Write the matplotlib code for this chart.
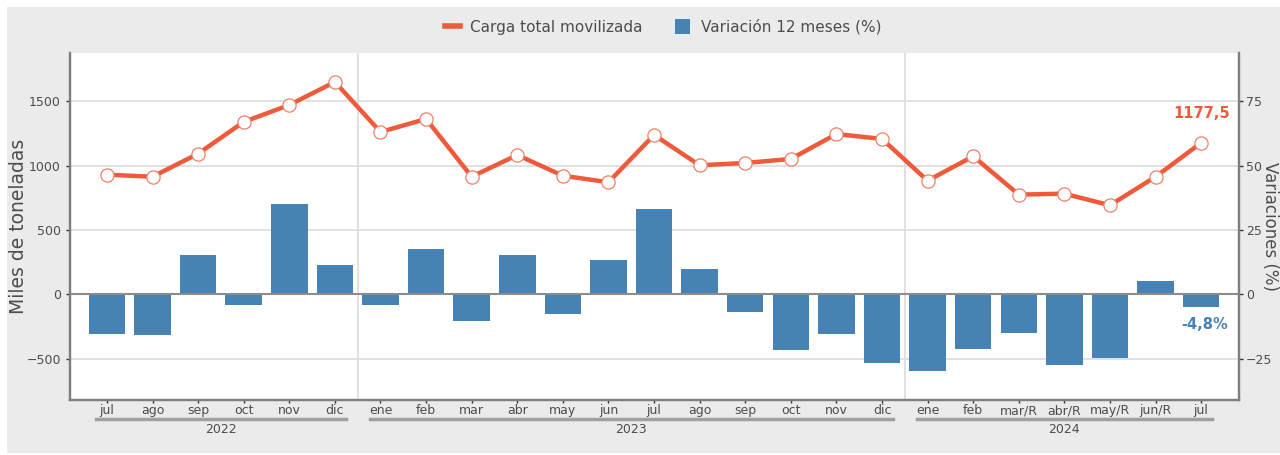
import matplotlib.pyplot as plt
from matplotlib.patches import Rectangle
from matplotlib.lines import Line2D
from matplotlib.patches import Patch
import matplotlib.transforms as mtransforms

months = ["jul", "ago", "sep", "oct", "nov", "dic",
          "ene", "feb", "mar", "abr", "may", "jun", "jul", "ago", "sep", "oct", "nov", "dic",
          "ene", "feb", "mar/R", "abr/R", "may/R", "jun/R", "jul"]
years = ["2022", "2023", "2024"]
year_counts = [6, 12, 7]

carga = [930, 914, 1093, 1340, 1472, 1651,
         1262, 1363, 914, 1083, 922, 871, 1239, 1003, 1021, 1052, 1246, 1208,
         883, 1073, 775, 782, 692, 914, 1177.5]
variacion = [-15.3, -16.0, 15.3, -4.2, 35.0, 11.4,
             -4.2, 17.6, -10.4, 15.2, -7.7, 13.2, 33.0, 9.7, -6.8, -21.5, -15.6, -26.8,
             -29.9, -21.1, -15.0, -27.6, -24.8, 5.2, -4.8]

ORANGE = "#EE5A3A"
BLUE = "#4682B4"
TEXT = "#4D4D4D"
BG = "#EBEBEB"

plt.rcParams["font.family"] = "DejaVu Sans"

W, H = 1280, 455
fig = plt.figure(figsize=(W / 100, H / 100), dpi=100)
fig.patch.set_facecolor("white")
fig.patches.append(Rectangle((7 / W, 2 / H), 1 - 7 / W, 446 / H, transform=fig.transFigure,
                             facecolor=BG, edgecolor="none", zorder=-10))

x0, x1, y0, y1 = 70, 1239, 53, 400
ax2 = fig.add_axes([x0 / W, (H - y1) / H, (x1 - x0) / W, (y1 - y0) / H])
ax = ax2.twinx()
ax.yaxis.tick_left()
ax.yaxis.set_label_position("left")
ax2.yaxis.tick_right()
ax2.yaxis.set_label_position("right")
ax.set_zorder(ax2.get_zorder() + 1)
ax.patch.set_visible(False)
ax2.set_facecolor("white")

x = list(range(len(months)))

# bars (right axis)
ax2.bar(x, variacion, width=0.8, color=BLUE, zorder=3)
ax2.set_ylim(-41.1, 93.8)
ax2.set_yticks([-25, 0, 25, 50, 75])
ax2.grid(axis="y", color="#DCDCDC", linewidth=1.2, zorder=0)
ax2.axhline(0, color="#8C8C8C", linewidth=1.5, zorder=4)
for sep in [5.5, 17.5]:
    ax2.axvline(sep, color="#DCDCDC", linewidth=1.2, zorder=1)

# line (left axis)
ax.plot(x, carga, color=ORANGE, linewidth=3.2, zorder=5)
ax.plot(x, carga, linestyle="none", marker="o", markersize=9.5,
        markerfacecolor="white", markeredgecolor="#F08068", markeredgewidth=0.9, zorder=6)
ax.set_ylim(-822, 1876)
ax.set_yticks([-500, 0, 500, 1000, 1500])
ax.set_xlim(-0.81, 24.83)

ax.annotate("1177,5", (x[-1], carga[-1]), xytext=(29, 29), textcoords="offset pixels",
            ha="right", va="center", color=ORANGE, fontsize=10.5, fontweight="bold")
ax2.annotate("-4,8%", (x[-1], variacion[-1]), xytext=(3, -18), textcoords="offset pixels",
             ha="center", va="center", color=BLUE, fontsize=10.5, fontweight="bold")

ax2.set_xticks(x)
ax2.set_xticklabels(months)
for a in (ax, ax2):
    a.tick_params(colors=TEXT, labelsize=9, length=3, width=1)
    a.tick_params(axis="x", color="#333333", pad=0.5, length=2.5)
    a.spines["top"].set_visible(False)
    for s in ("left", "right", "bottom"):
        a.spines[s].set_color("#7F7F7F")
        a.spines[s].set_linewidth(1.6)
ax.tick_params(axis="y", color="#333333")
ax2.tick_params(axis="y", color="#333333", pad=2)

ax.set_ylabel("Miles de toneladas", color=TEXT, fontsize=13.5, labelpad=-1)
ax2.set_ylabel("Variaciones (%)", color=TEXT, fontsize=12, rotation=270, labelpad=5)

# year groups below month labels
trans = mtransforms.blended_transform_factory(ax2.transData, fig.transFigure)
start = 0
for yr, n in zip(years, year_counts):
    a_, b_ = start - 0.24, start + n - 1 + 0.24
    fig.add_artist(Line2D([a_, b_], [(H - 419) / H] * 2, transform=trans,
                          color="#A0A0A0", linewidth=2.5))
    fig.text((a_ + b_) / 2, (H - 429.5) / H, yr, transform=trans, ha="center", va="center",
             color=TEXT, fontsize=9)
    start += n

handles = [Line2D([0], [0], color=ORANGE, linewidth=4),
           Patch(facecolor=BLUE, edgecolor="none")]
fig.legend(handles, ["Carga total movilizada", "Variación 12 meses (%)"],
           loc="center", bbox_to_anchor=(0.518, (H - 27) / H), ncol=2, frameon=False,
           fontsize=11, labelcolor=TEXT, handlelength=1.0, handleheight=1.1,
           columnspacing=2.1, handletextpad=0.7)

fig.savefig("out.png", dpi=100, facecolor=fig.get_facecolor())
